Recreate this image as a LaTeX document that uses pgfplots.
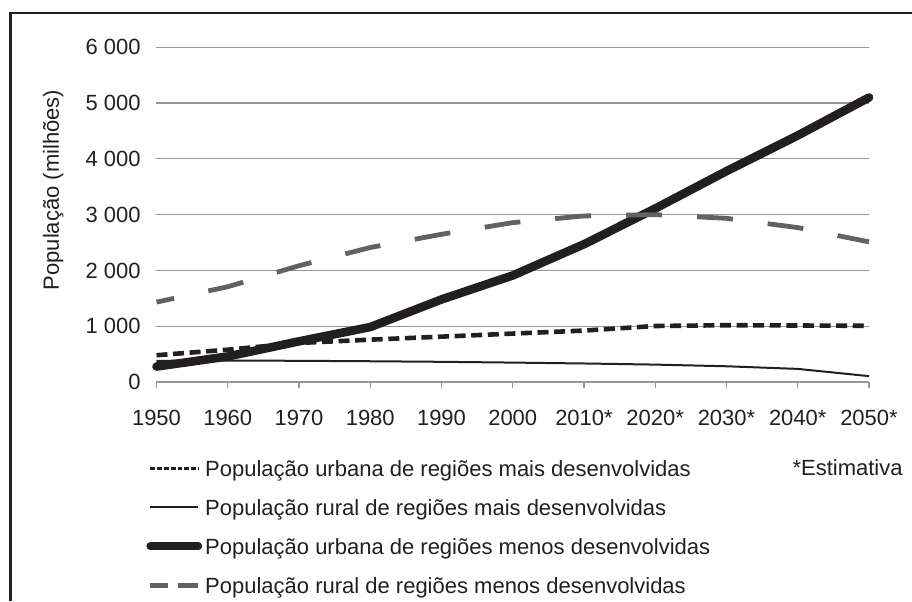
\documentclass[border=0pt]{standalone}
\usepackage{fontspec}
\setmainfont{Liberation Sans}
\usepackage{pgfplots}
\pgfplotsset{compat=1.18}
\definecolor{ink}{RGB}{35,31,32}
\definecolor{dgray}{RGB}{95,99,99}
\definecolor{gridc}{RGB}{150,150,150}
\begin{document}
\begin{tikzpicture}[font=\fontsize{11pt}{13pt}\selectfont, text=ink]
\path[use as bounding box] (0,0) rectangle (456pt,300.5pt);
\draw[ink, line width=1.3pt] (5.3pt,0pt) -- (5.3pt,294pt) -- (460pt,294pt);
\begin{axis}[
  at={(78.25pt,109.5pt)}, anchor=south west,
  scale only axis, width=356.25pt, height=167.35pt,
  xmin=0, xmax=10, ymin=0, ymax=6000,
  clip=false,
  axis line style={draw=none},
  xtick={0,1,...,10},
  xticklabels={1950,1960,1970,1980,1990,2000,2010*,2020*,2030*,2040*,2050*},
  ytick={0,1000,2000,3000,4000,5000,6000},
  yticklabels={0,1 000,2 000,3 000,4 000,5 000,6 000},
  ymajorgrids, grid style={gridc, line width=0.6pt},
  tick align=outside, major tick length=3pt,
  xtick pos=left,
  xtick style={gridc, line width=0.6pt},
  ytick style={draw=none},
  yticklabel style={xshift=-1.4pt},
  xticklabel style={yshift=-7.3pt},
  ylabel={População (milhões)},
  ylabel style={at={(axis description cs:-0.145,0.5737)}, anchor=center},
  legend cell align=left,
  legend style={at={(axis description cs:-0.01473,-0.2088)}, anchor=north west,
    draw=none, fill=none, inner sep=0pt, row sep=3.4pt, column sep=-0.5pt,
    nodes={inner sep=2pt, text height=10pt, text depth=2.1pt}},
  legend image code/.code={\draw[#1] (0pt,0pt) -- (24pt,0pt);},
]
\addlegendimage{ink, line width=1.7pt, dash pattern=on 2.4pt off 1pt}
\addlegendentry{População urbana de regiões mais desenvolvidas}
\addlegendimage{ink, line width=1pt}
\addlegendentry{População rural de regiões mais desenvolvidas}
\addlegendimage{ink, line width=3.9pt, line cap=round}
\addlegendentry{População urbana de regiões menos desenvolvidas}
\addlegendimage{dgray, line width=2.3pt, dash pattern=on 9pt off 5pt on 10pt off 5pt}
\addlegendentry{População rural de regiões menos desenvolvidas}

% Urban population, less developed regions
\addplot[ink, line width=4.3pt, line cap=round, line join=round, forget plot] coordinates {
(0,277) (1,458) (2,729) (3,985) (4,1480) (5,1910) (6,2470) (7,3110) (8,3780) (9,4420) (10,5100)};
% Rural population, less developed regions
\addplot[dgray, line width=2.4pt, dash pattern=on 18pt off 17.5pt, dash phase=9pt, forget plot] coordinates {
(0,1432) (1,1708) (2,2084) (3,2411) (4,2648) (5,2857) (6,2977) (7,3000) (8,2934) (9,2768) (10,2512)};
% Rural population, more developed regions
\addplot[ink, line width=1pt, forget plot] coordinates {
(0,380) (1,385) (2,380) (3,372) (4,362) (5,348) (6,332) (7,312) (8,282) (9,235) (10,105)};
% Urban population, more developed regions
\addplot[ink, line width=2.3pt, dash pattern=on 5.5pt off 2.8pt, forget plot] coordinates {
(0,480) (1,579) (2,700) (3,759) (4,813) (5,868) (6,922) (7,1004) (8,1018) (9,1013) (10,1007)};
\end{axis}
\node[anchor=base east, inner sep=0pt] at (451.5pt,62.55pt) {*Estimativa};
\end{tikzpicture}
\end{document}
